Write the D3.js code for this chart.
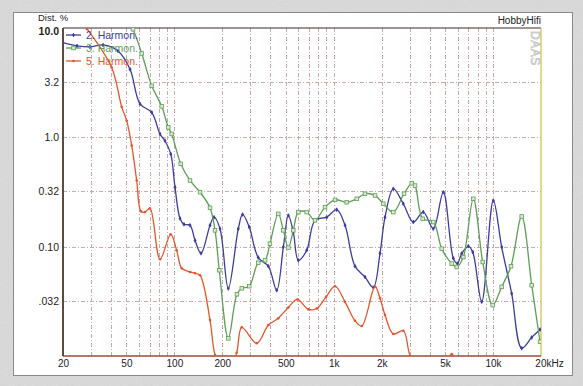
<!DOCTYPE html>
<html>
<head>
<meta charset="utf-8">
<script src="https://cdn.jsdelivr.net/npm/d3@7"></script>
<style>
  body { margin: 0; background: #c9c9c9; }
  svg { display: block; font-family: "Liberation Sans", Arial, sans-serif; }
</style>
</head>
<body>
<div id="chart"></div>
<script>
// Values: [frequency Hz, distortion %]
const harm2 = [
    [20, 7.34], [24.5, 6.86], [29.5, 6.71], [35.7, 7.0], [44.3, 6.17], [52.7, 4.2],
    [60.9, 2.02], [72.1, 1.69], [81.3, 1.07], [87.3, 0.93], [94.9, 0.705], [100.9, 0.35],
    [108.5, 0.181], [114.9, 0.16], [125.3, 0.157], [134.8, 0.114], [147, 0.087],
    [167.4, 0.157], [177.3, 0.186], [193.4, 0.146], [218, 0.0414], [252, 0.146],
    [268, 0.197], [295, 0.151], [336, 0.0795], [389, 0.0662], [439, 0.04], [483, 0.0992],
    [519, 0.193], [558, 0.136], [600, 0.0751], [677, 0.0926], [763, 0.174], [904, 0.186],
    [1044, 0.218], [1178, 0.157], [1361, 0.0662], [1572, 0.0528], [1772, 0.0423],
    [1953, 0.087], [2099, 0.186], [2366, 0.338], [2734, 0.247], [3160, 0.168],
    [3650, 0.207], [4218, 0.146], [4875, 0.315], [5632, 0.0783], [5968, 0.0701],
    [6359, 0.0864], [6996, 0.1007], [7455, 0.0894], [8490, 0.0313], [10040, 0.2645],
    [11330, 0.0992], [13090, 0.0373], [15130, 0.0118], [17490, 0.0148], [19720, 0.0175]
];
const harm3 = [
    [51.2, 11.6], [55, 9.73], [62.4, 5.85], [72.1, 2.96], [83.3, 1.92], [91.6, 1.233],
    [96.2, 1.073], [109.6, 0.572], [125.3, 0.403], [144.9, 0.315], [167.4, 0.227],
    [180, 0.141], [191.4, 0.0609], [218, 0.0145], [247, 0.0367], [265, 0.0416],
    [295, 0.0435], [336, 0.0713], [371, 0.0751], [398, 0.1066], [449, 0.1995],
    [483, 0.141], [519, 0.098], [558, 0.141], [600, 0.207], [677, 0.207], [763, 0.174],
    [882, 0.23], [1019, 0.268], [1207, 0.255], [1395, 0.274], [1572, 0.305],
    [1817, 0.294], [2048, 0.247], [2366, 0.207], [2762, 0.305], [3088, 0.38],
    [3239, 0.362], [3618, 0.18], [4218, 0.168], [4764, 0.0959], [5504, 0.0701],
    [5916, 0.0652], [6507, 0.0804], [7520, 0.274], [8614, 0.0724], [9951, 0.0292],
    [11330, 0.0429], [12960, 0.0662], [15130, 0.189], [17490, 0.0444], [19720, 0.0135]
];
const harm5 = [
    [25.6, 11.6], [28.3, 9.8], [40.4, 4.35], [46.7, 1.9], [50.2, 1.42], [54, 0.84],
    [58, 0.403], [61.7, 0.211], [65.4, 0.207], [70.3, 0.224], [81.3, 0.0767],
    [94.9, 0.1296], [103.4, 0.0926], [111.2, 0.0635], [125.3, 0.0587], [134.8, 0.0571],
    [144.9, 0.0548], [167.4, 0.0213], [180, 0.0102], [211, 0.006], [246, 0.0107],
    [265, 0.0183], [329, 0.0131], [389, 0.0192], [449, 0.0221], [519, 0.0278],
    [591, 0.0329], [693, 0.0267], [782, 0.0272], [895, 0.0347], [1019, 0.0435],
    [1178, 0.0313], [1361, 0.021], [1499, 0.0188], [1817, 0.0432], [1953, 0.0338],
    [2099, 0.0237], [2366, 0.0159], [2734, 0.017], [3013, 0.01], [3600, 0.006],
    [4700, 0.0075], [5504, 0.0104], [6400, 0.006]
];

const seriesNames = ['2. Harmon.', '3. Harmon.', '5. Harmon.'];
const xTickVals = [20, 50, 100, 200, 500, 1000, 2000, 5000, 10000, 20000];
const xTickLabels = ['20', '50', '100', '200', '500', '1k', '2k', '5k', '10k', '20kHz'];
const yTickVals = [10, 3.2, 1, 0.32, 0.1, 0.032];
const yTickLabels = ['10.0', '3.2', '1.0', '0.32', '0.10', '.032'];

const W = 583, H = 386;
const plot = { left: 63, right: 541, top: 28, bottom: 356 };

const svg = d3.select('#chart')
    .append('svg')
    .attr('width', W)
    .attr('height', H);

// grainy paper background + white panel
const grain = svg.append('defs').append('filter').attr('id', 'grain');
grain.append('feTurbulence').attr('type', 'fractalNoise').attr('baseFrequency', 0.9).attr('numOctaves', 2).attr('result', 'n');
grain.append('feColorMatrix').attr('type', 'matrix')
    .attr('values', '0 0 0 0 0.78  0 0 0 0 0.78  0 0 0 0 0.78  0 0 0 0.9 0');
svg.append('rect').attr('width', W).attr('height', H).attr('fill', '#d2d2d2');
svg.append('rect').attr('width', W).attr('height', H).attr('filter', 'url(#grain)').attr('opacity', 0.7);
svg.append('rect')
    .attr('x', 13.5).attr('y', 12.5)
    .attr('width', 559).attr('height', 363)
    .attr('fill', '#fff')
    .attr('stroke', '#8a8a8a');

const xScale = d3.scaleLog().domain([20, 20000]).range([plot.left, plot.right]);
const yScale = d3.scaleLog().domain([0.01, 10]).range([plot.bottom, plot.top]);

// grid
const grid = svg.append('g').classed('grid', true);
grid.selectAll('line.v')
    .data(xScale.ticks().filter(d => d > 20 && d < 20000))
    .enter().append('line')
    .attr('x1', d => Math.round(xScale(d)) + 0.5)
    .attr('x2', d => Math.round(xScale(d)) + 0.5)
    .attr('y1', plot.top)
    .attr('y2', plot.bottom)
    .attr('stroke', '#c9aaaa')
    .attr('stroke-dasharray', '4,2,1,2');
grid.selectAll('line.h')
    .data(yTickVals.slice(1))
    .enter().append('line')
    .attr('x1', plot.left)
    .attr('x2', plot.right)
    .attr('y1', d => Math.round(yScale(d)) + 0.5)
    .attr('y2', d => Math.round(yScale(d)) + 0.5)
    .attr('stroke', '#c9aaaa')
    .attr('stroke-dasharray', '4,2,1,2');

// frame lines of the plot
svg.append('line').attr('x1', plot.left).attr('x2', plot.right)
    .attr('y1', plot.top).attr('y2', plot.top).attr('stroke', '#3a2a2a').attr('stroke-width', 1.2);
svg.append('line').attr('x1', plot.right).attr('x2', plot.right)
    .attr('y1', plot.top).attr('y2', plot.bottom).attr('stroke', '#cdbb4a').attr('stroke-width', 1.2);
svg.append('line').attr('x1', plot.left).attr('x2', plot.right)
    .attr('y1', plot.bottom).attr('y2', plot.bottom).attr('stroke', '#9a4a3a').attr('stroke-width', 1.5);
svg.append('line').attr('x1', plot.left).attr('x2', plot.left)
    .attr('y1', plot.top).attr('y2', plot.bottom).attr('stroke', '#4a3a2a').attr('stroke-width', 1.8);

// axes
const xAxis = d3.axisBottom(xScale)
    .tickValues(xTickVals)
    .tickFormat((d, i) => xTickLabels[i])
    .tickSize(0)
    .tickPadding(4);
const gx = svg.append('g')
    .classed('x-axis', true)
    .attr('transform', `translate(0, ${plot.bottom})`)
    .call(xAxis);
gx.select('.domain').remove();
gx.selectAll('text').attr('font-size', 10).attr('fill', '#222').style('font-family', 'inherit');
gx.selectAll('.tick').filter(d => d === 20000).select('text').attr('dx', 8);

const yAxis = d3.axisLeft(yScale)
    .tickValues(yTickVals)
    .tickFormat((d, i) => yTickLabels[i])
    .tickSize(0)
    .tickPadding(4);
const gy = svg.append('g')
    .classed('y-axis', true)
    .attr('transform', `translate(${plot.left}, 0)`)
    .call(yAxis);
gy.select('.domain').remove();
gy.selectAll('text').attr('font-size', 10.5).attr('fill', '#222').style('font-family', 'inherit');
gy.selectAll('.tick').filter(d => d === 10).select('text')
    .attr('font-weight', 'bold').attr('dy', '0.6em');

svg.append('text').attr('x', 38).attr('y', 21).attr('font-size', 9.5).attr('fill', '#222').text('Dist. %');
svg.append('text').attr('x', 541).attr('y', 24).attr('text-anchor', 'end')
    .attr('font-size', 10).attr('fill', '#222').text('HobbyHifi');
svg.append('text')
    .attr('transform', 'translate(531, 31) rotate(90)')
    .attr('font-size', 12).attr('fill', '#fff').attr('stroke', '#a8a8a8').attr('stroke-width', 0.5)
    .attr('letter-spacing', 0.5)
    .text('DAAS');

// curves
svg.append('clipPath').attr('id', 'plotclip')
    .append('rect')
    .attr('x', plot.left).attr('y', plot.top)
    .attr('width', plot.right - plot.left).attr('height', plot.bottom - plot.top);

const line = d3.line()
    .curve(d3.curveCatmullRom.alpha(0.5))
    .x(d => xScale(d[0]))
    .y(d => yScale(d[1]));

const series = [
    { id: seriesNames[0], values: harm2, color: '#3d3d9e', marker: 'cross' },
    { id: seriesNames[1], values: harm3, color: '#5e9e56', marker: 'square' },
    { id: seriesNames[2], values: harm5, color: '#e5552b', marker: 'dot' }
];

const lines = svg.append('g').classed('lines', true).attr('clip-path', 'url(#plotclip)');

function drawMarker(g, s, x, y) {
    if (s.marker === 'square') {
        g.append('rect').attr('x', x - 1.8).attr('y', y - 1.8).attr('width', 3.6).attr('height', 3.6)
            .attr('fill', '#d6eacf').attr('stroke', s.color).attr('stroke-width', 0.8);
    } else if (s.marker === 'cross') {
        g.append('line').attr('x1', x).attr('x2', x).attr('y1', y - 2).attr('y2', y + 2)
            .attr('stroke', s.color).attr('stroke-width', 1.1);
        g.append('circle').attr('cx', x).attr('cy', y).attr('r', 1.3).attr('fill', s.color);
    } else {
        g.append('circle').attr('cx', x).attr('cy', y).attr('r', 1.3).attr('fill', s.color);
    }
}

series.forEach(s => {
    lines.append('path')
        .attr('d', line(s.values))
        .attr('fill', 'none')
        .attr('stroke', s.color)
        .attr('stroke-width', 1.3);
    const mg = lines.append('g');
    s.values.forEach(d => drawMarker(mg, s, xScale(d[0]), yScale(d[1])));
});

// legend
const legend = svg.append('g').classed('legend', true);
series.forEach((s, i) => {
    const y = 35 + i * 13;
    legend.append('line').attr('x1', 66).attr('x2', 81).attr('y1', y).attr('y2', y)
        .attr('stroke', s.color).attr('stroke-width', 1.3);
    drawMarker(legend, s, 73.5, y);
    legend.append('text').attr('x', 86).attr('y', y + 4)
        .attr('font-size', 10.5).attr('fill', s.color).text(s.id);
});
</script>
</body>
</html>
